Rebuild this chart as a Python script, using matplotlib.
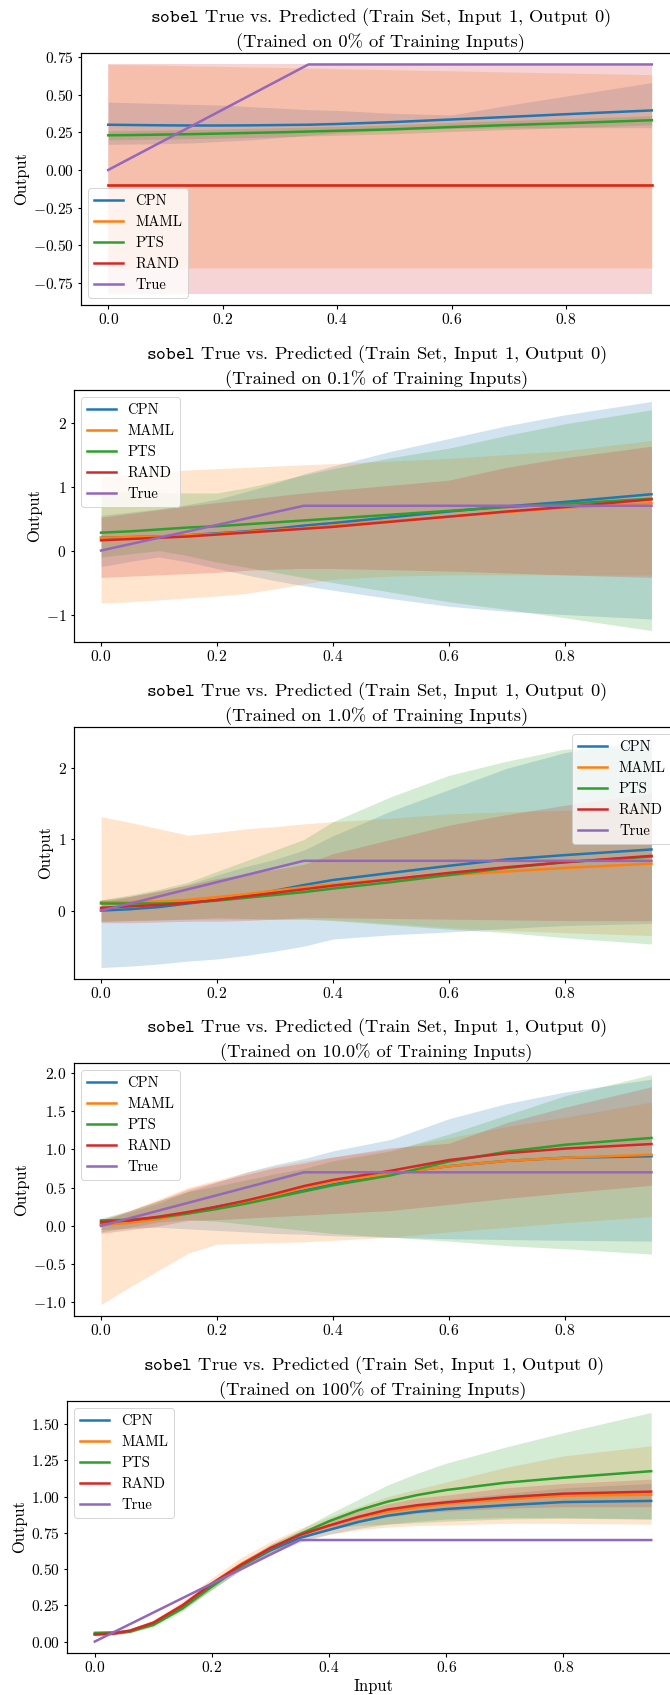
import matplotlib
matplotlib.use("Agg")
import matplotlib.pyplot as plt
from matplotlib.ticker import MultipleLocator

plt.rcParams['font.family'] = 'cmr10'
plt.rcParams['mathtext.fontset'] = 'cm'
plt.rcParams['axes.formatter.use_mathtext'] = True
plt.rcParams['axes.unicode_minus'] = True
plt.rcParams['axes.linewidth'] = 1.2
plt.rcParams['xtick.major.width'] = 1.1
plt.rcParams['ytick.major.width'] = 1.1

# input grid for the first four panels
x = [0.0, 0.05, 0.1, 0.15, 0.2, 0.25, 0.3, 0.35, 0.4, 0.5, 0.6, 0.7, 0.8, 0.95]
true_y = [0.0, 0.1, 0.2, 0.3, 0.4, 0.5, 0.6, 0.7, 0.7, 0.7, 0.7, 0.7, 0.7, 0.7]
# finer grid for the 100% panel
x5 = [0.0, 0.03, 0.06, 0.1, 0.15, 0.2, 0.25, 0.3, 0.35, 0.4, 0.45, 0.5, 0.55, 0.6, 0.7, 0.8, 0.95]
true_y5 = [0.0, 0.06, 0.12, 0.2, 0.3, 0.4, 0.5, 0.6, 0.7, 0.7, 0.7, 0.7, 0.7, 0.7, 0.7, 0.7, 0.7]

models = ["CPN", "MAML", "PTS", "RAND"]
pcts = ["0", "0.1", "1.0", "10.0", "100"]
ystep = [0.25, 1, 1, 0.5, 0.25]

# ---- 0% ----
p0_mean = {
    "CPN":  [.30, .298, .296, .295, .295, .296, .298, .30, .305, .318, .335, .352, .37, .395],
    "MAML": [-.1] * 14,
    "PTS":  [.23, .232, .235, .238, .242, .246, .25, .255, .26, .27, .285, .298, .31, .33],
    "RAND": [-.1] * 14,
}
p0_lo = {
    "CPN":  [.17, .172, .175, .18, .19, .20, .215, .23, .245, .265, .275, .28, .28, .28],
    "MAML": [-.65] * 14,
    "PTS":  [.20, .202, .205, .208, .212, .216, .22, .225, .23, .24, .255, .268, .28, .30],
    "RAND": [-.82] * 14,
}
p0_hi = {
    "CPN":  [.45, .445, .44, .435, .43, .42, .41, .40, .395, .375, .365, .43, .49, .58],
    "MAML": [.70, .698, .695, .69, .687, .683, .68, .676, .672, .665, .658, .65, .643, .632],
    "PTS":  [.26, .262, .265, .268, .272, .276, .28, .285, .29, .30, .315, .328, .34, .36],
    "RAND": [.70] * 14,
}

# ---- 0.1% ----
p1_mean = {
    "CPN":  [.20, .21, .22, .24, .27, .30, .34, .39, .43, .52, .61, .69, .76, .88],
    "MAML": [.20, .21, .22, .24, .26, .29, .32, .35, .39, .46, .53, .60, .67, .74],
    "PTS":  [.28, .30, .33, .36, .38, .41, .44, .47, .50, .56, .62, .68, .73, .81],
    "RAND": [.16, .18, .20, .22, .25, .28, .31, .34, .37, .45, .53, .61, .68, .80],
}
p1_lo = {
    "CPN":  [-.25, -.17, -.10, -.18, -.28, -.38, -.47, -.55, -.62, -.75, -.87, -.95, -1.0, -1.07],
    "MAML": [-.82, -.80, -.77, -.74, -.71, -.67, -.60, -.52, -.45, -.40, -.38, -.38, -.38, -.38],
    "PTS":  [-.10, -.05, 0.0, -.08, -.18, -.26, -.34, -.42, -.50, -.65, -.80, -.92, -1.05, -1.25],
    "RAND": [-.42, -.40, -.38, -.36, -.34, -.31, -.29, -.28, -.28, -.30, -.32, -.35, -.38, -.42],
}
p1_hi = {
    "CPN":  [.55, .60, .65, .72, .80, .92, 1.05, 1.20, 1.32, 1.55, 1.75, 1.95, 2.12, 2.33],
    "MAML": [1.15, 1.20, 1.23, 1.26, 1.28, 1.30, 1.32, 1.34, 1.36, 1.40, 1.44, 1.50, 1.56, 1.72],
    "PTS":  [.93, .92, .91, .90, .90, .98, 1.08, 1.18, 1.28, 1.45, 1.60, 1.80, 1.98, 2.20],
    "RAND": [.52, .58, .64, .70, .75, .80, .85, .90, .94, 1.02, 1.10, 1.30, 1.45, 1.63],
}

# ---- 1.0% ----
p2_mean = {
    "CPN":  [.00, .02, .05, .10, .15, .21, .28, .36, .43, .53, .63, .72, .78, .86],
    "MAML": [.12, .12, .13, .15, .19, .23, .28, .33, .37, .44, .50, .55, .60, .66],
    "PTS":  [.10, .10, .10, .11, .14, .18, .22, .26, .31, .40, .50, .60, .68, .76],
    "RAND": [.04, .06, .08, .11, .15, .20, .25, .30, .35, .44, .53, .61, .68, .77],
}
p2_lo = {
    "CPN":  [-.80, -.78, -.75, -.71, -.68, -.63, -.57, -.50, -.40, -.34, -.30, -.25, -.21, -.18],
    "MAML": [-.15, -.14, -.13, -.12, -.12, -.12, -.12, -.12, -.13, -.18, -.24, -.28, -.31, -.35],
    "PTS":  [-.15, -.14, -.13, -.12, -.10, -.11, -.12, -.12, -.14, -.20, -.26, -.31, -.38, -.47],
    "RAND": [-.17, -.17, -.16, -.15, -.15, -.14, -.12, -.10, -.10, -.11, -.12, -.13, -.14, -.14],
}
p2_hi = {
    "CPN":  [.15, .20, .27, .37, .50, .62, .72, .85, 1.05, 1.40, 1.70, 2.00, 2.22, 2.42],
    "MAML": [1.32, 1.24, 1.15, 1.06, 1.10, 1.15, 1.18, 1.22, 1.25, 1.30, 1.36, 1.39, 1.41, 1.42],
    "PTS":  [.15, .22, .30, .40, .55, .70, .85, 1.00, 1.25, 1.60, 1.90, 2.10, 2.27, 2.32],
    "RAND": [.12, .20, .28, .36, .45, .52, .58, .65, .80, 1.00, 1.20, 1.35, 1.48, 1.65],
}

# ---- 10.0% ----
p3_mean = {
    "CPN":  [.02, .05, .10, .17, .25, .32, .39, .46, .54, .68, .78, .85, .89, .91],
    "MAML": [.01, .04, .09, .16, .23, .31, .40, .50, .58, .68, .78, .85, .89, .93],
    "PTS":  [.07, .08, .11, .16, .22, .29, .37, .45, .53, .66, .84, .97, 1.06, 1.15],
    "RAND": [.05, .07, .12, .18, .25, .33, .42, .52, .60, .72, .86, .95, 1.01, 1.07],
}
p3_lo = {
    "CPN":  [-.05, -.03, -.02, -.04, -.06, -.08, -.10, -.11, -.13, -.15, -.17, -.18, -.19, -.20],
    "MAML": [-1.03, -.80, -.58, -.36, -.24, -.23, -.22, -.21, -.19, -.15, -.08, -.02, .04, .12],
    "PTS":  [-.08, -.02, .05, .08, .06, .02, -.02, -.06, -.10, -.15, -.20, -.26, -.30, -.37],
    "RAND": [-.10, -.05, 0.0, .07, .08, .10, .12, .14, .16, .20, .28, .36, .43, .53],
}
p3_hi = {
    "CPN":  [.08, .18, .30, .45, .57, .70, .80, .88, .98, 1.13, 1.40, 1.60, 1.75, 1.92],
    "MAML": [.05, .20, .35, .50, .60, .70, .78, .85, .90, 1.00, 1.15, 1.30, 1.42, 1.62],
    "PTS":  [.10, .20, .33, .45, .52, .60, .68, .75, .85, .98, 1.20, 1.45, 1.70, 1.98],
    "RAND": [.08, .20, .33, .48, .58, .67, .76, .82, .90, 1.02, 1.08, 1.35, 1.55, 1.82],
}

# ---- 100% (on x5) ----
p4_mean = {
    "CPN":  [.05, .055, .07, .125, .24, .385, .52, .63, .715, .77, .825, .868, .895, .914, .94, .962, .97],
    "MAML": [.05, .055, .075, .13, .25, .40, .535, .645, .735, .80, .855, .895, .925, .95, .98, 1.006, 1.013],
    "PTS":  [.06, .063, .07, .115, .23, .38, .52, .64, .74, .83, .905, .965, 1.01, 1.045, 1.095, 1.13, 1.175],
    "RAND": [.05, .055, .075, .13, .25, .40, .53, .645, .735, .80, .86, .91, .94, .96, .995, 1.02, 1.034],
}
p4_lo = {
    "CPN":  [.04, .045, .06, .11, .22, .36, .49, .60, .685, .74, .78, .81, .83, .845, .855, .855, .845],
    "MAML": [.04, .045, .06, .11, .22, .36, .50, .61, .70, .74, .77, .79, .80, .805, .815, .815, .81],
    "PTS":  [.05, .053, .06, .10, .21, .36, .50, .61, .71, .78, .80, .81, .82, .83, .845, .85, .845],
    "RAND": [.04, .045, .065, .12, .23, .38, .51, .62, .71, .77, .82, .86, .885, .90, .92, .93, .93],
}
p4_hi = {
    "CPN":  [.06, .065, .08, .14, .26, .41, .55, .66, .745, .80, .86, .91, .95, .98, 1.02, 1.06, 1.09],
    "MAML": [.06, .065, .09, .15, .28, .44, .58, .69, .78, .86, .93, 1.0, 1.05, 1.10, 1.20, 1.28, 1.35],
    "PTS":  [.07, .073, .08, .13, .25, .40, .54, .67, .77, .88, .98, 1.08, 1.16, 1.23, 1.34, 1.44, 1.58],
    "RAND": [.06, .065, .085, .14, .27, .42, .55, .67, .76, .83, .90, .95, .99, 1.01, 1.06, 1.09, 1.12],
}

panels = [
    (x, true_y, p0_mean, p0_lo, p0_hi, "lower left"),
    (x, true_y, p1_mean, p1_lo, p1_hi, "upper left"),
    (x, true_y, p2_mean, p2_lo, p2_hi, "upper right"),
    (x, true_y, p3_mean, p3_lo, p3_hi, "upper left"),
    (x5, true_y5, p4_mean, p4_lo, p4_hi, "upper left"),
]

colors = plt.rcParams['axes.prop_cycle'].by_key()['color']

W, H = 670, 1695
DPI = 72
fig = plt.figure(figsize=(W / DPI, H / DPI), dpi=DPI)

# axes boxes in pixels: left, top, bottom (right edge runs past the crop)
boxes = [(81, 53, 305), (73.5, 390, 642), (73.5, 727, 979), (73.5, 1063, 1316), (67, 1401, 1653)]
right = 679

for i, ((xs, ts, mean, lo, hi, loc), pct) in enumerate(zip(panels, pcts)):
    l, t, b = boxes[i]
    ax = fig.add_axes([l / W, 1 - b / H, (right - l) / W, (b - t) / H])
    for j, m in enumerate(models):
        ax.plot(xs, mean[m], color=colors[j], lw=2.5, label=m)
        ax.fill_between(xs, lo[m], hi[m], color=colors[j], alpha=0.2, lw=0)
    ax.plot(xs, ts, color=colors[4], lw=2.5, label="True")
    ax.set_title(r"$\mathtt{sobel}$ True vs. Predicted (Train Set, Input 1, Output 0)" + "\n"
                 + "(Trained on " + pct + "% of Training Inputs)", fontsize=18.5, linespacing=1.3)
    ax.set_ylabel("Output", fontsize=16.5)
    ax.yaxis.set_major_locator(MultipleLocator(ystep[i]))
    ax.xaxis.set_major_locator(MultipleLocator(0.2))
    ax.tick_params(labelsize=15.5)
    ax.legend(loc=loc, fontsize=14.6)
    if i == 4:
        ax.set_xlabel("Input", fontsize=16.5)

fig.savefig("out.png", dpi=DPI)
